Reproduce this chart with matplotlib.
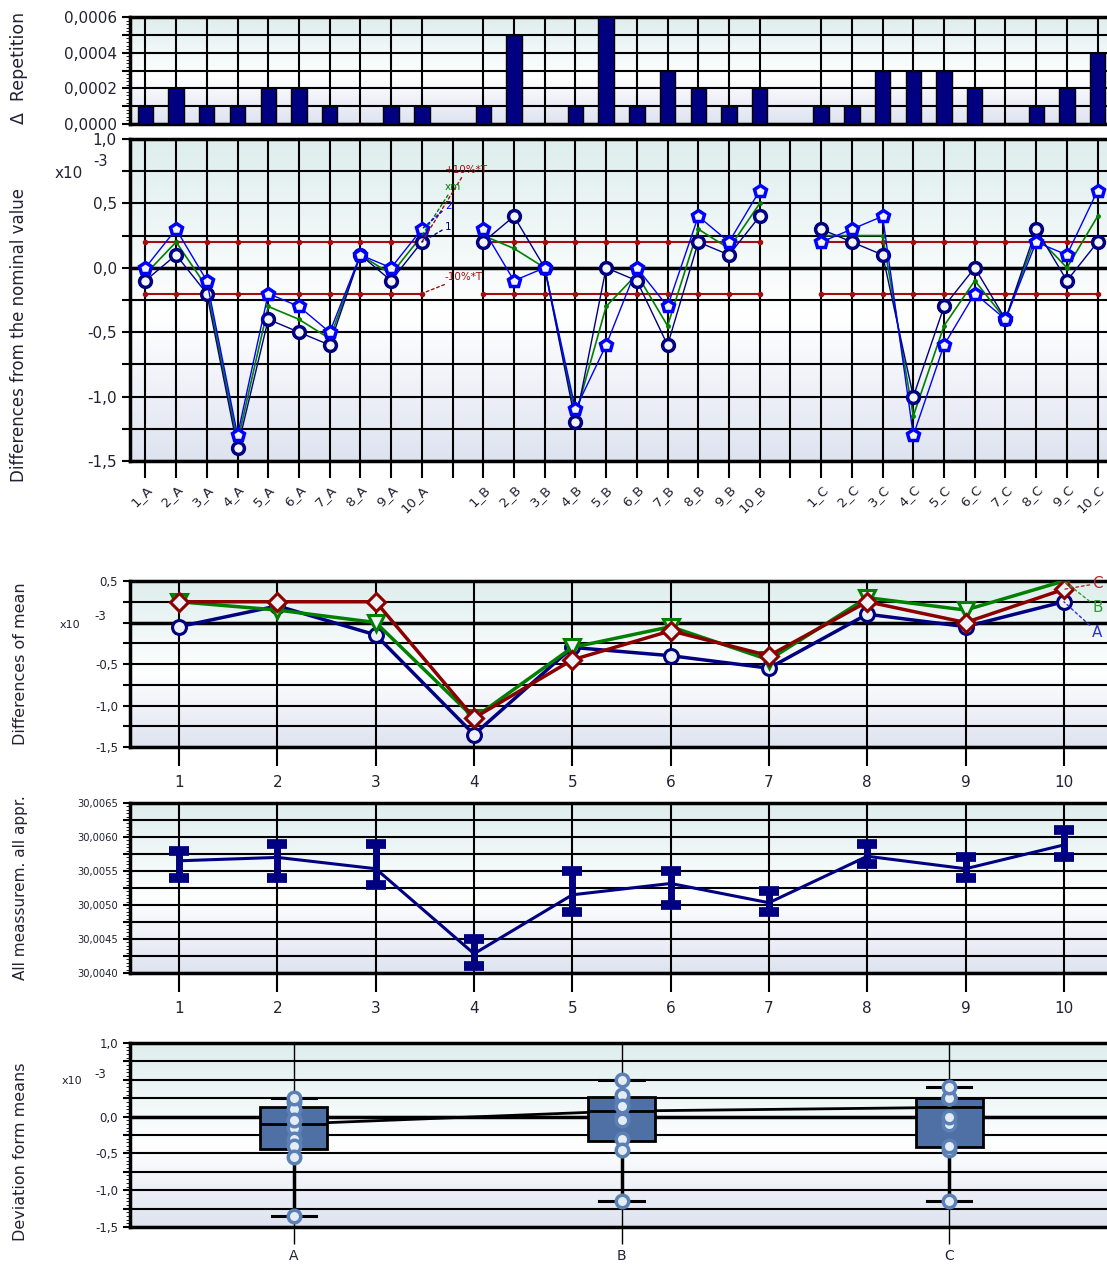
import numpy as np
import matplotlib.pyplot as plt
from matplotlib.ticker import AutoMinorLocator

plt.rcParams['font.family'] = 'DejaVu Sans'

# differenze dal valore nominale, unita x10^-3
serie1_A = [-0.1, 0.1, -0.2, -1.4, -0.4, -0.5, -0.6, 0.1, -0.1, 0.2]
serie2_A = [0.0, 0.3, -0.1, -1.3, -0.2, -0.3, -0.5, 0.1, 0.0, 0.3]
serie1_B = [0.2, 0.4, 0.0, -1.2, 0.0, -0.1, -0.6, 0.2, 0.1, 0.4]
serie2_B = [0.3, -0.1, 0.0, -1.1, -0.6, 0.0, -0.3, 0.4, 0.2, 0.6]
serie1_C = [0.3, 0.2, 0.1, -1.0, -0.3, 0.0, -0.4, 0.3, -0.1, 0.2]
serie2_C = [0.2, 0.3, 0.4, -1.3, -0.6, -0.2, -0.4, 0.2, 0.1, 0.6]
operatori = ['A', 'B', 'C']
parti = np.arange(1, 11)
limite = 0.2          # +-10%*T
nominale = 30.0055

s1 = np.array([serie1_A, serie1_B, serie1_C])
s2 = np.array([serie2_A, serie2_B, serie2_C])
xm = (s1 + s2) / 2
ripetizione = np.abs(s1 - s2) * 1e-3

# posizioni: 10 parti per operatore + uno spazio vuoto
pos = np.array([np.arange(10) + 11 * g for g in range(3)])
etichette = []
for g, op in enumerate(operatori):
    etichette += [f'{i}_{op}' for i in range(1, 11)]
    if g < 2:
        etichette.append('')
tutte_pos = np.arange(32)

NAVY = '#000080'
BLU = '#0000ff'
VERDE = '#008000'
ROSSO = '#a01010'
TESTO = '#222233'

W, H = 1107, 1266
fig = plt.figure(figsize=(W / 100, H / 100), dpi=100)


def asse(top, bottom):
    return fig.add_axes([130 / W, 1 - bottom / H, (1113 - 130) / W, (bottom - top) / H])


def fondo(ax):
    t = np.linspace(0, 1, 256)[:, None]
    alto = np.array([0.87, 0.93, 0.93])
    bianco = np.array([1.0, 1.0, 1.0])
    basso = np.array([0.87, 0.89, 0.94])
    img = np.where(t < 0.55, alto + (bianco - alto) * (t / 0.55),
                   bianco + (basso - bianco) * ((t - 0.55) / 0.45))
    ax.imshow(img.reshape(256, 1, 3), extent=[0, 1, 0, 1], transform=ax.transAxes,
              aspect='auto', zorder=0)
    for s in ['top', 'left', 'bottom']:
        ax.spines[s].set_linewidth(2.5)
    ax.spines['right'].set_visible(False)
    ax.tick_params(colors='black', labelcolor=TESTO)


def virgola(v, dec):
    if abs(v) < 1e-12:
        v = 0.0
    return f'{v:.{dec}f}'.replace('.', ',')


# ------------------------------------------------------------------
# ripetizione
ax1 = asse(17, 124)
fondo(ax1)
for g in range(3):
    ax1.bar(pos[g], ripetizione[g], width=0.5, color=NAVY, edgecolor='black', lw=1, zorder=3)
ax1.set_xlim(-0.5, 31.5)
ax1.set_ylim(0, 0.0006)
griglia1 = np.arange(0, 0.00061, 0.0001)
ax1.set_yticks(griglia1)
ax1.set_yticklabels([virgola(v, 4) if i % 2 == 0 else '' for i, v in enumerate(griglia1)],
                    fontsize=11)
ax1.yaxis.set_minor_locator(AutoMinorLocator(5))
ax1.set_xticks(pos.ravel())
ax1.tick_params(axis='x', length=0, labelbottom=False)
ax1.tick_params(axis='y', which='major', length=6, width=1.5)
ax1.tick_params(axis='y', which='minor', length=3)
ax1.grid(True, color='black', lw=1.5, zorder=1)
ax1.set_ylabel('Δ  Repetition', fontsize=12.5, color=TESTO)
ax1.yaxis.set_label_coords(-0.104, 0.52)

# ------------------------------------------------------------------
# differenze dal nominale
ax2 = asse(139, 461)
fondo(ax2)
griglia = np.arange(-1.5, 1.01, 0.25)
for g in range(3):
    ax2.plot(pos[g], [limite] * 10, color=ROSSO, lw=1.5, marker='o', ms=3, zorder=3)
    ax2.plot(pos[g], [-limite] * 10, color=ROSSO, lw=1.5, marker='o', ms=3, zorder=3)
    ax2.plot(pos[g], xm[g], color=VERDE, lw=1.2, marker='o', ms=2.5, zorder=4)
    ax2.plot(pos[g], s1[g], color=NAVY, lw=1, marker='o', ms=8.5, mfc='#f2f4fa',
             mec=NAVY, mew=2.5, zorder=5)
    ax2.plot(pos[g], s2[g], color=BLU, lw=1, marker='p', ms=9, mfc='#f2f4fa',
             mec=BLU, mew=2.5, zorder=6)
ax2.axhline(0, color='black', lw=2.5, zorder=2)
ax2.set_xlim(-0.5, 31.5)
ax2.set_ylim(-1.5, 1.0)
ax2.set_yticks(griglia)
ax2.set_yticklabels([virgola(v, 1) if i % 2 == 0 else '' for i, v in enumerate(griglia)],
                    fontsize=11)
ax2.set_xticks(tutte_pos)
ax2.set_xticklabels(etichette, rotation=45, ha='right', va='top', rotation_mode='anchor',
                    fontsize=9.5)
ax2.tick_params(axis='x', length=12, width=1.5)
ax2.tick_params(axis='y', length=6, width=1.5)
ax2.grid(True, color='black', lw=1.5, zorder=1)
ax2.set_ylabel('Differences from the nominal value', fontsize=12, color=TESTO)
ax2.yaxis.set_label_coords(-0.104, 0.39)
fig.text(55 / W, 1 - 173 / H, 'x10', fontsize=11, color=TESTO, va='center')
fig.text(93 / W, 1 - 161 / H, '-3', fontsize=10.5, color=TESTO, va='center')

# richiami gruppo A
richiami = [('+10%*T', limite, 0.76, ROSSO), ('xm', xm[0][9], 0.625, VERDE),
            ('2', s2[0][9], 0.48, BLU), ('1', s1[0][9], 0.32, NAVY),
            ('-10%*T', -limite, -0.07, ROSSO)]
for testo, y0, yt, c in richiami:
    ax2.annotate(testo, xy=(9, y0), xytext=(9.75, yt), fontsize=7.5, color=c,
                 va='center', ha='left', zorder=7,
                 arrowprops=dict(arrowstyle='-', color=c, lw=1, ls=(0, (2, 2)),
                                 shrinkA=0, shrinkB=0))

# ------------------------------------------------------------------
# differenze delle medie
ax3 = asse(581, 747)
fondo(ax3)
stili = [('o', NAVY, 10), ('v', VERDE, 11), ('D', '#8b0000', 9)]
for g in range(3):
    m, c, ms = stili[g]
    ax3.plot(parti, xm[g], color=c, lw=2.5, marker=m, ms=ms, mfc='#eef2f6', mec=c,
             mew=2.2, zorder=4 + g)
ax3.axhline(0, color='black', lw=2.5, zorder=2)
griglia3 = np.arange(-1.5, 0.51, 0.25)
ax3.set_xlim(0.5, 10.5)
ax3.set_ylim(-1.5, 0.5)
ax3.set_yticks(griglia3)
lab3 = ['-1,5', '', '-1,0', '', '-0,5', '', '', '', '0,5']
ax3.set_yticklabels(lab3, fontsize=8.5)
ax3.set_xticks(parti)
ax3.set_xticklabels([str(p) for p in parti], fontsize=11)
ax3.tick_params(axis='x', length=14, width=1.5, pad=6)
ax3.tick_params(axis='y', length=5, width=1.5)
ax3.grid(True, color='black', lw=1.5, zorder=1)
ax3.set_ylabel('Differences of mean', fontsize=11.5, color=TESTO)
ax3.yaxis.set_label_coords(-0.104, 0.5)
fig.text(60 / W, 1 - 625 / H, 'x10', fontsize=8, color=TESTO, va='center')
fig.text(94 / W, 1 - 617 / H, '-3', fontsize=8.5, color=TESTO, va='center')
for g, (yt, c) in enumerate([(-0.12, '#3333cc'), (0.18, '#2ea02e'), (0.47, '#b03030')]):
    ax3.annotate(operatori[g], xy=(10, xm[g][9]), xytext=(10.29, yt), fontsize=11, color=c,
                 va='center', ha='left', zorder=8,
                 arrowprops=dict(arrowstyle='-', color=c, lw=1, ls=(0, (2, 2)),
                                 shrinkA=0, shrinkB=0))

# ------------------------------------------------------------------
# tutte le misure
ax4 = asse(803, 973)
fondo(ax4)
tutte = np.concatenate([s1, s2], axis=0)   # 6 x 10
valori = nominale + tutte * 1e-3
media = valori.mean(axis=0)
vmin = valori.min(axis=0)
vmax = valori.max(axis=0)
ax4.errorbar(parti, media, yerr=[media - vmin, vmax - media], color=NAVY, lw=2.2,
             elinewidth=5, capsize=7, capthick=7, zorder=4)
griglia4 = np.arange(30.0040, 30.00651, 0.00025)
ax4.set_xlim(0.5, 10.5)
ax4.set_ylim(30.0040, 30.0065)
ax4.set_yticks(griglia4)
ax4.set_yticklabels([virgola(v, 4) if i % 2 == 0 else '' for i, v in enumerate(griglia4)],
                    fontsize=8, fontstretch='condensed')
ax4.yaxis.set_minor_locator(AutoMinorLocator(5))
ax4.set_xticks(parti)
ax4.set_xticklabels([str(p) for p in parti], fontsize=11)
ax4.tick_params(axis='x', length=14, width=1.5, pad=6)
ax4.tick_params(axis='y', which='major', length=5, width=1.5)
ax4.tick_params(axis='y', which='minor', length=3)
ax4.grid(True, color='black', lw=1.5, zorder=1)
ax4.set_ylabel('All meassurem. all appr.', fontsize=11, color=TESTO)
ax4.yaxis.set_label_coords(-0.104, 0.5)

# ------------------------------------------------------------------
# scostamento dalle medie
ax5 = asse(1043, 1227)
fondo(ax5)
statistiche = []
for g in range(3):
    d = xm[g]
    q1, med, q3 = np.percentile(d, [25, 50, 75], method='weibull')
    statistiche.append(dict(med=med, q1=q1, q3=q3, whislo=d.min(), whishi=d.max(),
                            fliers=[], label=operatori[g]))
ax5.plot([1, 2, 3], [s['med'] for s in statistiche], color='black', lw=2, zorder=3)
ax5.bxp(statistiche, positions=[1, 2, 3], widths=0.205, capwidths=0.135, patch_artist=True,
        showfliers=False,
        boxprops=dict(facecolor='#4f70a4', edgecolor='black', lw=2),
        medianprops=dict(color='black', lw=2),
        whiskerprops=dict(color='black', lw=2.5),
        capprops=dict(color='black', lw=2.2), zorder=4)
for g in range(3):
    ax5.plot(np.full(10, g + 1), xm[g], ls='none', marker='o', ms=9, mfc='#e4ecf5',
             mec='#5a80b5', mew=2.5, zorder=6)
ax5.axhline(0, color='black', lw=2.5, zorder=2)
griglia5 = np.arange(-1.5, 1.01, 0.25)
ax5.set_xlim(0.5, 3.5)
ax5.set_ylim(-1.5, 1.0)
ax5.set_yticks(griglia5)
lab5 = ['-1,5', '', '-1,0', '', '-0,5', '', '0,0', '', '', '', '1,0']
ax5.set_yticklabels(lab5, fontsize=8.5)
ax5.yaxis.set_minor_locator(AutoMinorLocator(5))
ax5.set_xticks([1, 2, 3])
ax5.set_xticklabels(operatori, fontsize=10)
ax5.tick_params(axis='x', length=12, width=1, pad=4)
ax5.tick_params(axis='y', which='major', length=5, width=1.5)
ax5.tick_params(axis='y', which='minor', length=3)
ax5.grid(True, axis='y', color='black', lw=1.5, zorder=1)
ax5.grid(True, axis='x', color='black', lw=1, zorder=1)
ax5.set_ylabel('Deviation form means', fontsize=11.5, color=TESTO)
ax5.yaxis.set_label_coords(-0.104, 0.41)
fig.text(62 / W, 1 - 1081 / H, 'x10', fontsize=8, color=TESTO, va='center')
fig.text(94 / W, 1 - 1074 / H, '-3', fontsize=8.5, color=TESTO, va='center')

fig.savefig('out.png', dpi=100)
